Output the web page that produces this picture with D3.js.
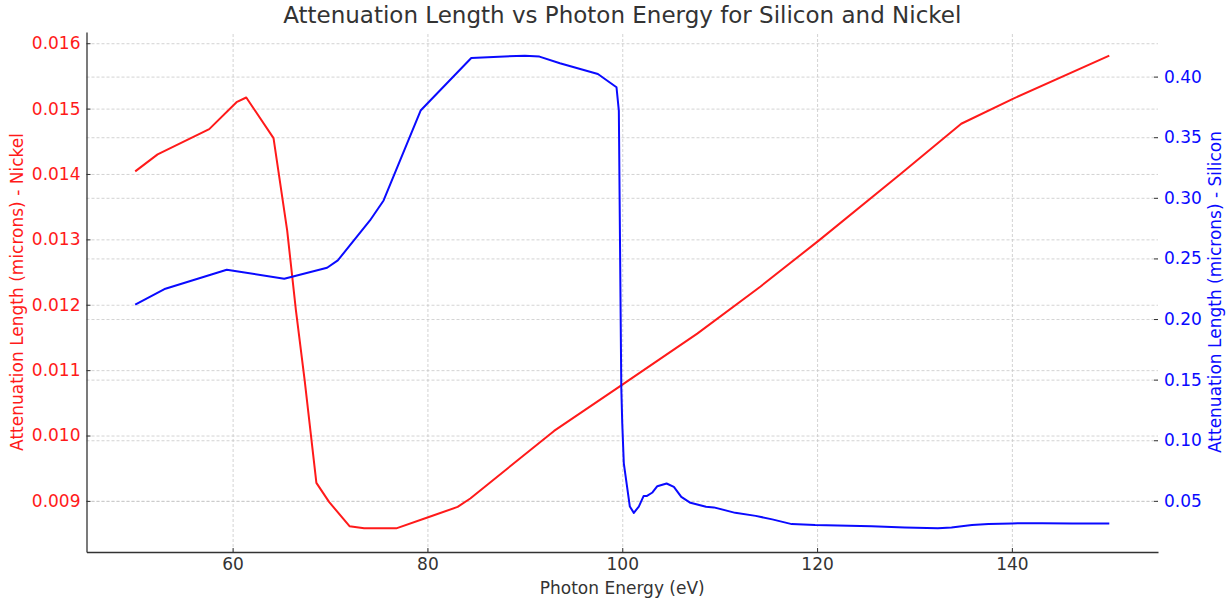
<!DOCTYPE html>
<html>
<head>
<meta charset="utf-8">
<script src="https://cdn.jsdelivr.net/npm/d3@7"></script>
<style>
  body { margin: 0; background: #fff; }
  text { font-family: "DejaVu Sans", sans-serif; }
</style>
</head>
<body>
<div id="wrapper"></div>
<script>
// data
const energyNickel = [50, 52.3, 57.6, 60.4, 61.4, 64.2, 65.6, 66.5, 67.4, 68.6, 69.9, 72.0, 73.5, 76.8, 80.0, 83.1, 84.4, 93.0, 99.9, 107.7, 114.2, 120.2, 128.6, 134.8, 140.1, 150]
const nickel = [0.01404, 0.0143, 0.014686, 0.015098, 0.01517, 0.014548, 0.013137, 0.011914, 0.01084, 0.009275, 0.008985, 0.008613, 0.00858, 0.00858, 0.008746, 0.008908, 0.009037, 0.01007, 0.010768, 0.011558, 0.01228, 0.012985, 0.014004, 0.014768, 0.01515, 0.01581]

const energySilicon = [50, 53.1, 59.4, 65.3, 69.7, 70.8, 74.1, 75.5, 79.3, 84.5, 90.0, 91.5, 93.6, 97.5, 99.41, 99.65, 99.9, 100.0, 100.16, 100.78, 101.19, 101.7, 102.2, 102.5, 103.1, 103.6, 104.55, 105.3, 106.06, 107.0, 108.6, 109.4, 111.6, 113.7, 115.4, 117.4, 119.8, 125.6, 129.0, 132.4, 133.8, 135.9, 137.6, 140.0, 143.1, 146.2, 150]
const silicon = [0.2119, 0.225, 0.2407, 0.2333, 0.2423, 0.2484, 0.2813, 0.2978, 0.372, 0.4154, 0.4173, 0.4165, 0.411, 0.4022, 0.3912, 0.372, 0.144, 0.114, 0.081, 0.0453, 0.0401, 0.0453, 0.0541, 0.0539, 0.0569, 0.0621, 0.0643, 0.0615, 0.0533, 0.0484, 0.0451, 0.0446, 0.0401, 0.0376, 0.0347, 0.0308, 0.030, 0.0291, 0.0281, 0.0273, 0.0281, 0.030, 0.031, 0.0314, 0.0316, 0.0314, 0.0314]

const xTicks = [60, 80, 100, 120, 140]
const nickelTicks = [0.009, 0.010, 0.011, 0.012, 0.013, 0.014, 0.015, 0.016]
const siliconTicks = [0.05, 0.10, 0.15, 0.20, 0.25, 0.30, 0.35, 0.40]

function drawChart() {
  const nickelData = energyNickel.map((e, i) => ({x: e, y: nickel[i]}))
  const siliconData = energySilicon.map((e, i) => ({x: e, y: silicon[i]}))

  let dimensions = {
    width: 1229,
    height: 606,
    margin: {top: 32, right: 71, bottom: 54, left: 86.5}
  }
  dimensions.boundedWidth = dimensions.width - dimensions.margin.left - dimensions.margin.right
  dimensions.boundedHeight = dimensions.height - dimensions.margin.top - dimensions.margin.bottom

  const svg = d3.select("#wrapper").append("svg")
      .attr("width", dimensions.width)
      .attr("height", dimensions.height)
  const bounds = svg.append("g")
      .attr("transform", `translate(${dimensions.margin.left},${dimensions.margin.top})`)

  // matplotlib style 5% padding
  const pad = ext => {
    const p = (ext[1] - ext[0]) * 0.05
    return [ext[0] - p, ext[1] + p]
  }
  const xScale = d3.scaleLinear()
      .domain(pad(d3.extent(energyNickel.concat(energySilicon))))
      .range([0, dimensions.boundedWidth])
  const yNickel = d3.scaleLinear()
      .domain(pad(d3.extent(nickel)))
      .range([dimensions.boundedHeight, 0])
  const ySilicon = d3.scaleLinear()
      .domain(pad(d3.extent(silicon)))
      .range([dimensions.boundedHeight, 0])

  // grids
  const gridStyle = g => {
    g.select(".domain").remove()
    g.selectAll("line")
        .attr("stroke", "#c8c8c8")
        .attr("stroke-width", 0.8)
        .attr("stroke-dasharray", "3,2")
  }
  bounds.append("g")
      .attr("transform", `translate(0,${dimensions.boundedHeight})`)
      .call(d3.axisBottom(xScale).tickValues(xTicks).tickSize(-dimensions.boundedHeight).tickFormat(""))
      .call(gridStyle)
  bounds.append("g")
      .call(d3.axisLeft(yNickel).tickValues(nickelTicks).tickSize(-dimensions.boundedWidth).tickFormat(""))
      .call(gridStyle)
  bounds.append("g")
      .call(d3.axisLeft(ySilicon).tickValues(siliconTicks).tickSize(-dimensions.boundedWidth).tickFormat(""))
      .call(gridStyle)

  // lines
  const nickelLine = d3.line().x(d => xScale(d.x)).y(d => yNickel(d.y))
  const siliconLine = d3.line().x(d => xScale(d.x)).y(d => ySilicon(d.y))
  bounds.append("path")
      .datum(nickelData)
      .attr("d", nickelLine)
      .attr("fill", "none")
      .attr("stroke", "#ff1a1a")
      .attr("stroke-width", 2)
      .attr("stroke-linejoin", "round")
  bounds.append("path")
      .datum(siliconData)
      .attr("d", siliconLine)
      .attr("fill", "none")
      .attr("stroke", "#0a0aff")
      .attr("stroke-width", 2)
      .attr("stroke-linejoin", "round")

  // axes
  const xAxis = bounds.append("g")
      .attr("transform", `translate(0,${dimensions.boundedHeight})`)
      .call(d3.axisBottom(xScale).tickValues(xTicks).tickSizeOuter(0).tickSizeInner(-4).tickPadding(6).tickFormat(d3.format("d")))
  xAxis.select(".domain").attr("stroke", "#333").attr("stroke-width", 1.3)
  xAxis.selectAll(".tick line").attr("stroke", "#333")
  xAxis.selectAll("text").attr("fill", "#333").style("font-size", "17px")

  const leftAxis = bounds.append("g")
      .call(d3.axisLeft(yNickel).tickValues(nickelTicks).tickSizeOuter(0).tickSizeInner(-4).tickPadding(6).tickFormat(d3.format(".3f")))
  leftAxis.select(".domain").attr("stroke", "#333").attr("stroke-width", 1.3)
  leftAxis.selectAll(".tick line").attr("stroke", "#333")
  leftAxis.selectAll("text").attr("fill", "#ff1a1a").style("font-size", "17px")

  const rightAxis = bounds.append("g")
      .attr("transform", `translate(${dimensions.boundedWidth},0)`)
      .call(d3.axisRight(ySilicon).tickValues(siliconTicks).tickSizeOuter(0).tickSizeInner(-4).tickPadding(6).tickFormat(d3.format(".2f")))
  rightAxis.select(".domain").remove()
  rightAxis.selectAll(".tick line").attr("stroke", "#333")
  rightAxis.selectAll("text").attr("fill", "#0a0aff").style("font-size", "17px")

  // labels
  svg.append("text")
      .attr("x", dimensions.margin.left + dimensions.boundedWidth / 2)
      .attr("y", 23)
      .attr("text-anchor", "middle")
      .attr("fill", "#333")
      .style("font-size", "23px")
      .text("Attenuation Length vs Photon Energy for Silicon and Nickel")

  svg.append("text")
      .attr("x", dimensions.margin.left + dimensions.boundedWidth / 2)
      .attr("y", 594)
      .attr("text-anchor", "middle")
      .attr("fill", "#333")
      .style("font-size", "17px")
      .text("Photon Energy (eV)")

  const midY = dimensions.margin.top + dimensions.boundedHeight / 2
  svg.append("text")
      .attr("transform", `translate(23,${midY}) rotate(-90)`)
      .attr("text-anchor", "middle")
      .attr("fill", "#ff1a1a")
      .style("font-size", "17px")
      .text("Attenuation Length (microns) - Nickel")

  svg.append("text")
      .attr("transform", `translate(1221,${midY}) rotate(-90)`)
      .attr("text-anchor", "middle")
      .attr("fill", "#0a0aff")
      .style("font-size", "17px")
      .text("Attenuation Length (microns) - Silicon")
}
drawChart()
</script>
</body>
</html>
